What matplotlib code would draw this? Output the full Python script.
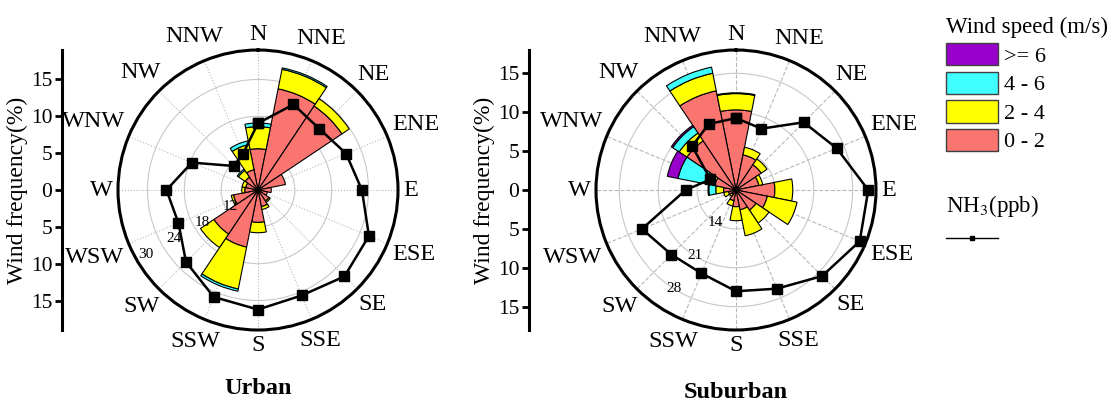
import numpy as np
import matplotlib.pyplot as plt
import matplotlib.transforms as mtransforms
from matplotlib.patches import Patch
from matplotlib.lines import Line2D

plt.rcParams['font.family'] = ['Liberation Serif', 'DejaVu Serif']
plt.rcParams['mathtext.fontset'] = 'stix'

directions = ['N', 'NNE', 'NE', 'ENE', 'E', 'ESE', 'SE', 'SSE',
              'S', 'SSW', 'SW', 'WSW', 'W', 'WNW', 'NW', 'NNW']
speed_bins = ['0 - 2', '2 - 4', '4 - 6', '>= 6']
bin_colors = ['#FA7470', '#FFFF00', '#40FFFF', '#9900CC']

# wind frequency (%) for each direction, one list per speed class
urban_0_2 = [5.6, 14.0, 13.7, 3.8, 1.8, 1.3, 1.8, 2.3, 4.4, 7.9, 7.2, 3.4, 1.8, 1.7, 2.1, 2.8]
urban_2_4 = [3.0, 2.7, 1.2, 0, 0, 0, 0.2, 0.4, 1.4, 5.8, 2.2, 0.3, 0.4, 0.5, 1.1, 3.5]
urban_4_6 = [0.5, 0.2, 0, 0, 0, 0, 0, 0, 0, 0.3, 0, 0, 0, 0, 0.2, 0.5]
urban_6 = [0] * 16
urban_nh3 = [18.4, 23.2, 22.1, 23.7, 25.3, 28.3, 28.7, 27.2, 28.2, 27.5, 24.9, 22.0, 23.0, 19.3, 12.3, 13.3]

suburban_0_2 = [10.3, 4.6, 3.9, 3.0, 5.0, 4.1, 3.1, 2.6, 2.15, 1.4, 0.7, 1.0, 1.6, 2.8, 7.6, 13.0]
suburban_2_4 = [2.1, 1.0, 0.9, 0.5, 2.3, 3.9, 2.0, 3.4, 1.8, 0.7, 0.3, 0.6, 1.0, 1.2, 1.2, 2.3]
suburban_4_6 = [0.1, 0, 0, 0, 0, 0, 0, 0, 0, 0, 0, 0, 0.9, 3.6, 1.0, 0.8]
suburban_6 = [0, 0, 0, 0, 0, 0, 0, 0, 0, 0, 0, 0, 0.1, 1.4, 0.2, 0]
suburban_nh3 = [20.0, 19.0, 24.3, 26.7, 30.9, 31.2, 29.0, 26.3, 25.3, 23.3, 23.5, 25.4, 16.1, 12.0, 18.2, 19.9]

W, H = 1115, 405
fig = plt.figure(figsize=(W / 100, H / 100), dpi=100)

theta = np.deg2rad(np.arange(16) * 22.5)
dir_labels = []


def rose(cx, freq, nh3, rmax, nh3_lim, nh3_ticks, lab_ang, grid_ls, minor, axis_x, title, title_y):
    rect = [(cx - 140) / W, (H - 330) / H, 280 / W, 280 / H]
    ax = fig.add_axes(rect, projection='polar')
    ax.set_theta_zero_location('N')
    ax.set_theta_direction(-1)
    bottom = np.zeros(16)
    for vals, c in zip(freq, bin_colors):
        vals = np.array(vals, dtype=float)
        m = vals > 0
        ax.bar(theta[m], vals[m], width=2 * np.pi / 16, bottom=bottom[m], color=c,
               edgecolor='black', linewidth=0.8, zorder=3)
        bottom += vals
    ax.set_ylim(0, rmax)
    ax.set_yticks([5, 10, 15])
    ax.set_yticklabels([])
    ax.set_xticks(theta)
    ax.set_xticklabels([])
    if minor:
        ax.set_xticks(theta + np.deg2rad(11.25), minor=True)
        ax.tick_params(axis='x', which='minor', direction='in', length=5, width=1.5)
        ax.tick_params(axis='x', which='major', direction='in', length=6, width=1.5)
    else:
        ax.tick_params(axis='x', which='major', direction='in', length=4, width=1.2)
    ax.xaxis.grid(True, ls=grid_ls, color='#B8B8B8', lw=0.8)
    ax.yaxis.grid(True, ls='-', color='#C8C8C8', lw=0.8)
    ax.spines['polar'].set_linewidth(2.2)

    for lab, t in zip(directions, theta):
        a = ax.annotate(lab, xy=(t, rmax), xytext=(0, 0), textcoords='offset pixels',
                        ha='center', va='center', fontsize=17.5, annotation_clip=False)
        dir_labels.append((a, t))

    # NH3 on its own radial scale
    ax2 = fig.add_axes(rect, projection='polar')
    ax2.set_theta_zero_location('N')
    ax2.set_theta_direction(-1)
    ax2.patch.set_visible(False)
    ax2.spines['polar'].set_visible(False)
    ax2.grid(False)
    ax2.set_xticks([])
    ax2.set_yticks([])
    ax2.set_ylim(*nh3_lim)
    th = np.append(theta, theta[0])
    ax2.plot(th, np.append(nh3, nh3[0]), color='black', lw=1.8, marker='s', ms=6.5, clip_on=False)
    for v in nh3_ticks:
        ax2.text(np.deg2rad(lab_ang), v, str(v), ha='center', va='center', fontsize=11)

    # linear frequency axis on the left
    lax = fig.add_axes([axis_x / W, rect[1], 0.0001, rect[3]])
    lax.set_ylim(-rmax, rmax)
    lax.set_xticks([])
    for s in ['top', 'right', 'bottom']:
        lax.spines[s].set_visible(False)
    lax.spines['left'].set_linewidth(2.2)
    ticks = [-15, -10, -5, 0, 5, 10, 15]
    lax.set_yticks(ticks)
    lax.set_yticklabels([str(abs(t)) for t in ticks])
    lax.tick_params(axis='y', direction='out', length=5, width=2, labelsize=15.5, pad=2)
    lax.set_ylabel('Wind frequency(%)', fontsize=17)
    tr = mtransforms.blended_transform_factory(fig.transFigure, lax.transAxes)
    lax.yaxis.set_label_coords((axis_x - 34) / W, 0.5, transform=tr)

    fig.text(cx / W, 1 - title_y / H, title, ha='center', va='center', fontsize=17.5, fontweight='bold')


rose(258, [urban_0_2, urban_2_4, urban_4_6, urban_6], urban_nh3, 19, (6, 32),
     [12, 18, 24, 30], 240, ':', False, 62, 'Urban', 388)
rose(736, [suburban_0_2, suburban_2_4, suburban_4_6, suburban_6], suburban_nh3, 18, (7, 32.3),
     [14, 21, 28], 212, '--', True, 529, 'Suburban', 393)

handles = [Patch(facecolor=c, edgecolor='#404040', linewidth=1) for c in reversed(bin_colors)]
fig.legend(handles=handles, labels=list(reversed(speed_bins)), title='Wind speed (m/s)',
           loc='upper left', bbox_to_anchor=(946 / W, 1 - 17 / H), frameon=False,
           fontsize=16, title_fontsize=16.5, handlelength=2.35, handleheight=1.17,
           labelspacing=0.22, handletextpad=0.27, alignment='left', borderpad=0, borderaxespad=0)
fig.legend(handles=[Line2D([], [], color='black', lw=1, marker='s', ms=3)], labels=[''],
           title='NH$_3$(ppb)', loc='upper left', bbox_to_anchor=(946 / W, 1 - 193 / H),
           frameon=False, title_fontsize=16.5, fontsize=16, handlelength=2.35, alignment='left',
           borderpad=0, borderaxespad=0)

# push direction labels outside the circle according to their size
fig.canvas.draw()
r = fig.canvas.get_renderer()
for a, t in dir_labels:
    bb = a.get_window_extent(r)
    off = 5 + 0.5 * bb.width * abs(np.sin(t)) + 0.5 * bb.height * abs(np.cos(t))
    a.xyann = (off * np.sin(t), off * np.cos(t))

fig.savefig('out.png', dpi=100)
